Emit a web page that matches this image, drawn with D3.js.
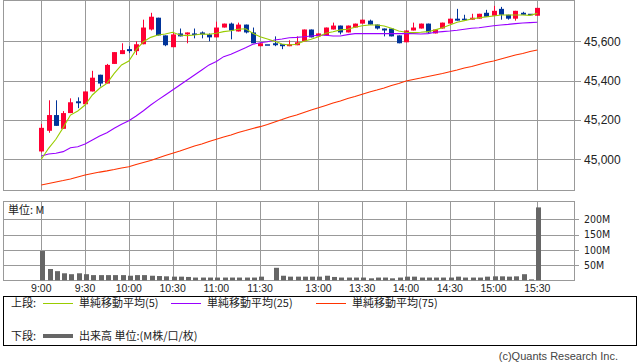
<!DOCTYPE html>
<html>
<head>
<meta charset="utf-8">
<script src="https://cdn.jsdelivr.net/npm/d3@7"></script>
<style>
body { margin: 0; background: #fff; }
text { font-family: "Liberation Sans", Arial, sans-serif; fill: #222; }
.jp { font-family: "Noto Sans CJK JP", sans-serif; }
.narrow { font-family: "Liberation Sans Narrow", "DejaVu Sans Condensed", Arial, sans-serif; }
</style>
</head>
<body>
<div id="chart"></div>
<script>
var width = 638;
var height = 362;

// 5分足 (index 31 = 昼休み前後のダミー足)
var open  = [45040,45145,45225,45155,45235,45295,45280,45345,45430,45385,45485,45535,45560,45550,45585,45660,45720,45630,45570,45640,
             45635,45640,45645,45635,45620,45670,45690,45650,45685,45645,45575,45585,45590,45585,45575,45580,45600,45660,45625,45630,
             45660,45680,45645,45670,45690,45705,45685,45665,45665,45630,45595,45655,45665,45690,45640,45665,45690,45715,45715,45710,
             45715,45745,45730,45765,45735,45715,45745,45740,45730];
var high  = [45180,45300,45300,45245,45310,45315,45345,45450,45430,45485,45545,45590,45575,45600,45710,45745,45720,45630,45645,45665,
             45645,45665,45650,45640,45700,45690,45695,45695,45685,45670,45590,45585,45625,45585,45605,45625,45660,45660,45640,45670,
             45695,45680,45680,45690,45710,45710,45685,45665,45665,45630,45655,45695,45690,45690,45660,45695,45715,45765,45735,45740,
             45740,45760,45780,45775,45735,45755,45750,45740,45770];
var low   = [45035,45135,45170,45155,45235,45260,45280,45345,45370,45385,45485,45535,45540,45530,45585,45655,45630,45575,45570,45625,
             45590,45615,45615,45600,45620,45670,45610,45650,45640,45590,45575,45585,45575,45560,45575,45580,45600,45620,45625,45630,
             45660,45635,45645,45670,45690,45685,45660,45625,45625,45590,45595,45655,45665,45640,45640,45665,45690,45705,45710,45710,
             45715,45725,45730,45710,45710,45705,45735,45740,45730];
var close = [45160,45225,45170,45235,45290,45285,45345,45415,45385,45480,45545,45555,45550,45585,45670,45725,45630,45580,45635,45625,
             45645,45635,45635,45620,45670,45690,45655,45685,45645,45590,45590,45585,45580,45575,45585,45595,45660,45620,45640,45670,
             45680,45645,45680,45690,45710,45685,45665,45655,45625,45590,45655,45670,45690,45645,45660,45695,45715,45705,45710,45720,
             45740,45725,45755,45735,45715,45755,45735,45740,45770];

var ma5  = [45000,45056,45102,45161,45225,45246,45276,45327,45361,45386,45437,45480,45500,45556,45598,45620,45632,45637,45646,45632,
            45629,45632,45637,45636,45641,45649,45654,45661,45664,45641,45623,45612,45600,45586,45581,45585,45600,45610,45623,45641,
            45649,45658,45661,45671,45679,45683,45683,45678,45666,45652,45646,45644,45646,45649,45658,45669,45683,45697,45705,45713,
            45720,45724,45729,45734,45734,45734,45734,45732,45742];
var ma25 = [45017,45027,45031,45039,45059,45064,45078,45098,45118,45135,45158,45178,45196,45220,45247,45276,45302,45327,45352,45378,
            45403,45429,45454,45480,45497,45522,45534,45551,45567,45585,45593,45598,45607,45612,45618,45620,45623,45627,45631,45631,
            45627,45627,45634,45639,45639,45639,45639,45639,45639,45639,45640,45639,45637,45639,45646,45649,45652,45656,45661,45666,
            45669,45674,45679,45683,45686,45690,45693,45695,45697];
var ma75 = [44869,44877,44885,44892,44900,44910,44920,44928,44935,44941,44948,44956,44962,44974,44984,44994,45007,45019,45031,45042,
            45055,45068,45078,45091,45102,45113,45124,45136,45146,45157,45166,45177,45190,45202,45215,45225,45238,45251,45262,45274,
            45286,45296,45309,45319,45331,45342,45352,45363,45375,45385,45398,45406,45413,45421,45429,45436,45445,45454,45464,45472,
            45482,45492,45500,45510,45520,45530,45538,45548,45556];

// 出来高 (M)
var volume = [96,37,30,23,20,23,20,17,17,17,17,17,15,17,17,15,14,13,12,12,
              11,9,9,9,9,9,9,9,9,9,12,0,41,15,12,12,12,12,12,15,
              11,9,9,9,9,6.5,9,9,6.5,9,12,12,9,9,9,9,9,12,9,9,
              9,12,13,13,12,13,20,3,239];

var tickIdx    = [0,6,12,18,24,30,38,44,50,56,62,68];
var tickLabels = ["9:00","9:30","10:00","10:30","11:00","11:30","13:00","13:30","14:00","14:30","15:00","15:30"];
var priceTicks = [45000,45200,45400,45600];
var volTicks   = [50,100,150,200];

var red = "#ff0033", blue = "#003399", grid = "#999";

var svg = d3.select("#chart").append("svg")
    .attr("width", width).attr("height", height);

var x  = d3.scaleLinear().domain([0, 68]).range([41.3, 537.3]);
var y  = d3.scaleLinear().domain([45000, 45600]).range([159.3, 41.3]);
var yv = d3.scaleLinear().domain([0, 200]).range([280.3, 219.3]);
var px = function(v) { return Math.round(v) + 0.5; };

var L = 3, R = 574;

// ---- grids (main + volume)
function vgrid(top, bottom) {
  svg.append("g").selectAll("line").data(tickIdx).enter().append("line")
    .attr("x1", function(d) { return px(x(d)); }).attr("x2", function(d) { return px(x(d)); })
    .attr("y1", top).attr("y2", bottom)
    .attr("stroke", grid);
}
vgrid(0, 190);
vgrid(201, 280);

svg.append("g").selectAll("line").data(priceTicks).enter().append("line")
  .attr("x1", L).attr("x2", R + 7)
  .attr("y1", function(d) { return px(y(d)); }).attr("y2", function(d) { return px(y(d)); })
  .attr("stroke", grid);
svg.append("g").selectAll("text").data(priceTicks).enter().append("text")
  .attr("x", 584).attr("y", function(d) { return y(d); }).attr("dy", "0.36em")
  .style("font-size", "12px")
  .text(d3.format(","));

svg.append("g").selectAll("line").data(volTicks).enter().append("line")
  .attr("x1", L).attr("x2", R + 5)
  .attr("y1", function(d) { return px(yv(d)); }).attr("y2", function(d) { return px(yv(d)); })
  .attr("stroke", grid);
svg.append("g").selectAll("text").data(volTicks).enter().append("text")
  .attr("class", "narrow")
  .attr("x", 584).attr("y", function(d) { return yv(d); }).attr("dy", "0.36em")
  .style("font-size", "10.5px")
  .text(function(d) { return d + "M"; });

svg.append("rect").attr("x", L + 0.5).attr("y", 0.5).attr("width", R - L).attr("height", 190)
  .attr("fill", "none").attr("stroke", grid);
svg.append("rect").attr("x", L + 0.5).attr("y", 201.5).attr("width", R - L).attr("height", 79)
  .attr("fill", "none").attr("stroke", grid);

// ---- candles
var idx = d3.range(open.length);
var cg = svg.append("g");
cg.selectAll("line").data(idx).enter().append("line")
  .attr("x1", function(i) { return px(x(i)); }).attr("x2", function(i) { return px(x(i)); })
  .attr("y1", function(i) { return y(high[i]); }).attr("y2", function(i) { return y(low[i]); })
  .attr("stroke", function(i) { return close[i] > open[i] ? red : blue; });
cg.selectAll("rect").data(idx).enter().append("rect")
  .attr("x", function(i) { return Math.round(x(i)) - 2; })
  .attr("width", 5)
  .attr("y", function(i) { return Math.min(y(open[i]), y(close[i])); })
  .attr("height", function(i) { return Math.max(1.5, Math.abs(y(open[i]) - y(close[i]))); })
  .attr("fill", function(i) { return close[i] > open[i] ? red : blue; });

// ---- moving averages
var line = function(arr) {
  return d3.line().x(function(d, i) { return x(i); }).y(function(d) { return y(d); })(arr);
};
[[ma75, "#ff3300"], [ma25, "#9900ff"], [ma5, "#99cc00"]].forEach(function(s) {
  svg.append("path").attr("d", line(s[0])).attr("fill", "none")
    .attr("stroke", s[1]).attr("stroke-width", 1.1);
});

// ---- volume
svg.append("g").selectAll("rect").data(idx.filter(function(i) { return volume[i] > 0; })).enter().append("rect")
  .attr("x", function(i) { return Math.round(x(i)) - 1; })
  .attr("width", 5)
  .attr("y", function(i) { return yv(volume[i]); })
  .attr("height", function(i) { return yv(0) - yv(volume[i]); })
  .attr("fill", "#666");

svg.append("text").attr("class", "jp").attr("x", 8).attr("y", 214)
  .style("font-size", "11px").text("単位: M");

// ---- time labels
svg.append("g").selectAll("text").data(tickIdx).enter().append("text")
  .attr("x", function(d) { return x(d); }).attr("y", 292)
  .attr("text-anchor", "middle").style("font-size", "10.5px")
  .text(function(d, i) { return tickLabels[i]; });

// ---- legend
svg.append("rect").attr("x", 3.5).attr("y", 296.5).attr("width", 633).attr("height", 49)
  .attr("fill", "none").attr("stroke", "#000");
var lg = svg.append("g").style("font-size", "11px");
lg.append("text").attr("class", "jp").attr("x", 11).attr("y", 307).text("上段:");
var items = [["単純移動平均(5)", "#99cc00", 43], ["単純移動平均(25)", "#9900ff", 171], ["単純移動平均(75)", "#ff3300", 316]];
items.forEach(function(it) {
  lg.append("line").attr("x1", it[2]).attr("x2", it[2] + 30).attr("y1", 303.5).attr("y2", 303.5)
    .attr("stroke", it[1]);
  lg.append("text").attr("class", "jp").attr("x", it[2] + 36).attr("y", 307).text(it[0]);
});
lg.append("text").attr("class", "jp").attr("x", 11).attr("y", 340).text("下段:");
lg.append("line").attr("x1", 43).attr("x2", 73).attr("y1", 336).attr("y2", 336)
  .attr("stroke", "#666").attr("stroke-width", 4);
lg.append("text").attr("class", "jp").attr("x", 79).attr("y", 340).text("出来高 単位:(M株/口/枚)");

svg.append("text").attr("x", 618).attr("y", 360).attr("text-anchor", "end")
  .style("font-size", "11px").style("fill", "#444").text("(c)Quants Research Inc.");
</script>
</body>
</html>
